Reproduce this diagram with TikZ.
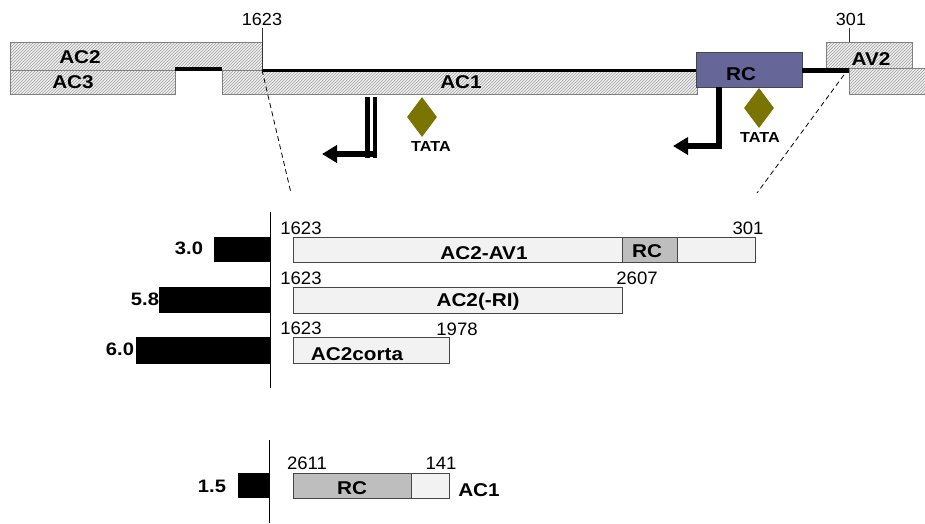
\documentclass[tikz,border=0pt]{standalone}
\usepackage{fontspec}
\setmainfont[FakeStretch=1.03]{Liberation Sans}
\newfontfamily\wideb[FakeStretch=1.12]{Liberation Sans}
\usetikzlibrary{patterns,shapes.geometric,arrows.meta}
\definecolor{rcblue}{RGB}{102,102,153}
\definecolor{tatacol}{RGB}{122,116,0}
\definecolor{dotfill}{RGB}{242,242,242}
\definecolor{rcgray}{RGB}{190,190,190}
\definecolor{boxedge}{RGB}{70,70,70}
\tikzset{
  hatchbox/.style={rectangle, draw=gray, line width=0.9pt, inner sep=0pt, outer sep=0pt, anchor=north west,
    preaction={fill=gray!12}, pattern=north east lines, pattern color=gray!75},
  rcbox/.style={rectangle, draw=boxedge, line width=1pt, fill=rcblue, inner sep=0pt, outer sep=0pt, anchor=north west},
  dotbox/.style={rectangle, draw=boxedge, line width=0.9pt, fill=dotfill, inner sep=0pt, outer sep=0pt, anchor=north west},
  graybox/.style={rectangle, draw=boxedge, line width=0.9pt, fill=rcgray, inner sep=0pt, outer sep=0pt, anchor=north west},
  barbox/.style={rectangle, fill=black, inner sep=0pt, outer sep=0pt, anchor=north east},
  lab/.style={font=\wideb\bfseries\fontsize{18.5}{20}\selectfont, inner sep=0pt},
  barlab/.style={font=\wideb\bfseries\fontsize{18}{19}\selectfont, inner sep=0pt},
  toplab/.style={font=\fontsize{17.5}{19}\selectfont, inner sep=0pt},
  num/.style={font=\fontsize{18}{19}\selectfont, inner sep=0pt},
  tatalab/.style={font=\wideb\bfseries\fontsize{14.5}{16}\selectfont, inner sep=0pt},
  tatadia/.style={diamond, fill=tatacol, minimum width=30pt, minimum height=40pt, inner sep=0pt},
  thickline/.style={line width=3.5pt},
  tickline/.style={line width=0.9pt, draw=black!80},
  zoomline/.style={line width=0.8pt, dashed, dash pattern=on 5pt off 3.5pt},
  axisline/.style={line width=1pt},
  promo/.style={line width=5.5pt, -{Triangle[length=15pt, width=17pt]}},
}
\begin{document}
\begin{tikzpicture}[x=1pt,y=-1pt]
\fill[white] (0,0) rectangle (925,523);
\useasboundingbox (0,0) rectangle (925,523);

% ---------- top map ----------
\node[hatchbox, minimum width=252pt, minimum height=28pt] (ac2) at (10,42) {};
\node[hatchbox, minimum width=165pt, minimum height=24pt] (ac3) at (10,70) {};
\node[hatchbox, minimum width=475pt, minimum height=24pt] (ac1) at (222,70) {};
\node[hatchbox, minimum width=86pt, minimum height=26pt] (av2) at (826,42) {};
\node[hatchbox, minimum width=80pt, minimum height=26pt] (avr) at (849,68) {};

\draw[thickline] ([yshift=1pt]ac3.north east) -- ([yshift=1pt]ac1.north west);
\draw[thickline] ([yshift=-0.5pt]ac2.south east) -- ([yshift=-0.5pt]ac1.north east);

\node[rcbox, minimum width=106pt, minimum height=35pt] (rc) at (696,52) {};
\draw[line width=5pt] (rc.east |- 0,70) -- (avr.west |- 0,70);

\node[lab] (lac2) at (80,57) {AC2};
\node[lab] (lac3) at (73,82) {AC3};
\node[lab] (lac1) at (461,82) {AC1};
\node[lab] (lrc) at (741,74) {RC};
\node[lab] (lav2) at (871,59) {AV2};

\node[toplab] (t1623) at (262,19) {1623};
\node[toplab] (t301) at (851,19) {301};
\draw[tickline] (t1623.south |- 0,28) -- (ac2.south east);
\draw[tickline] (849,28) -- (avr.north west |- av2.north);

% promoters
\coordinate (p1top) at (371,97);
\coordinate (p1bot) at (371,158);
\coordinate (p1h) at (377,154);
\coordinate (p1tip) at (322,154);
\draw[line width=4.5pt, double=white, double distance=3pt] (p1top) -- (p1bot);
\draw[promo] (p1h) -- (p1tip);

\coordinate (p2top) at (719,87);
\coordinate (p2bot) at (719,149);
\coordinate (p2h) at (722,146);
\coordinate (p2tip) at (673,146);
\draw[line width=5.5pt] (p2top) -- (p2bot);
\draw[promo] (p2h) -- (p2tip);

\node[tatadia] (d1) at (422,117) {};
\node[tatalab] (tata1) at (431,147) {TATA};
\node[tatadia] (d2) at (759,108) {};
\node[tatalab] (tata2) at (760,138) {TATA};

% zoom lines
\coordinate (zl) at (291,193);
\coordinate (zr) at (757,193);
\draw[zoomline] (ac2.south east) -- (zl);
\draw[zoomline] (avr.north west) -- (zr);

% ---------- transcripts ----------
\coordinate (ax1t) at (270,212);
\coordinate (ax1b) at (270,388);
\draw[axisline] (ax1t) -- (ax1b);

\node[barbox, minimum width=56pt, minimum height=25pt] (b30) at (270,237) {};
\node[barbox, minimum width=111pt, minimum height=26pt] (b58) at (270,287) {};
\node[barbox, minimum width=134pt, minimum height=27pt] (b60) at (270,337) {};

\node[barlab] (l30) at (189,248) {3.0};
\node[barlab] (l58) at (145,299) {5.8};
\node[barlab] (l60) at (120,349) {6.0};

\node[dotbox, minimum width=462pt, minimum height=25pt] (acav1) at (293,237) {};
\node[graybox, minimum width=55pt, minimum height=25pt] (rc2) at (622,237) {};
\node[dotbox, minimum width=329pt, minimum height=26pt] (acri) at (293,287) {};
\node[dotbox, minimum width=156pt, minimum height=26pt] (corta) at (293,337) {};

\node[lab] (lacav1) at (484,253) {AC2-AV1};
\node[lab] (lrc2) at (647,251) {RC};
\node[lab] (lacri) at (478,302) {AC2(-RI)};
\node[lab] (lcorta) at (357,354) {AC2corta};

\node[num] (n1623a) at (301,228) {1623};
\node[num] (n301) at (748,228) {301};
\node[num] (n1623b) at (301,278) {1623};
\node[num] (n2607) at (637,278) {2607};
\node[num] (n1623c) at (301,328) {1623};
\node[num] (n1978) at (457,329) {1978};

% ---------- RC transcript ----------
\coordinate (ax2t) at (269,440);
\coordinate (ax2b) at (269,523);
\draw[axisline] (ax2t) -- (ax2b);
\node[barbox, minimum width=31pt, minimum height=25pt] (b15) at (269,473) {};
\node[barlab] (l15) at (212,486) {1.5};

\node[graybox, minimum width=118pt, minimum height=25pt] (rc3) at (293,473) {};
\node[dotbox, minimum width=38pt, minimum height=25pt] (ac1b) at (411,473) {};
\node[lab] (lrc3) at (352,488) {RC};
\node[lab] (lac1b) at (479,490) {AC1};
\node[num] (n2611) at (307,463) {2611};
\node[num] (n141) at (441,463) {141};
\end{tikzpicture}
\end{document}
